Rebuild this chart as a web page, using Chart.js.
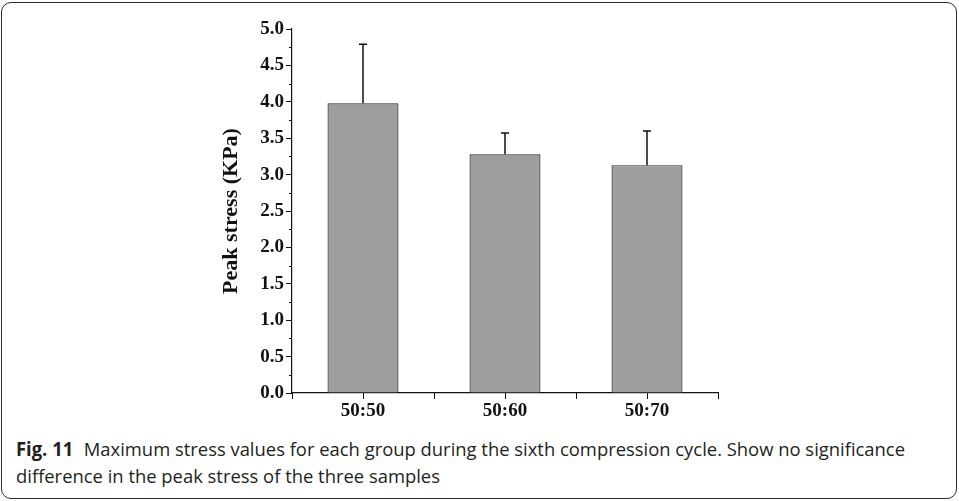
<!DOCTYPE html>
<html>
<head>
<meta charset="utf-8">
<script src="https://cdn.jsdelivr.net/npm/chart.js@4.4.1/dist/chart.umd.min.js"></script>
<style>
  html, body { margin: 0; padding: 0; background: #fff; }
  body { width: 959px; height: 501px; position: relative; overflow: hidden; }
  #frame {
    position: absolute; left: 1px; top: 2px; width: 954px; height: 495px;
    border: 1.5px solid #2a2a2a; border-radius: 10px;
  }
  #wrap { position: absolute; left: 0; top: 0; width: 959px; height: 430px; }
  #caption {
    position: absolute; left: 16px; top: 436px;
    font-family: "Open Sans", sans-serif; font-size: 19px; line-height: 27px;
    color: #231f20; transform-origin: 0 0; white-space: nowrap;
  }
  #caption b { font-weight: 700; margin-right: 6px; }
</style>
</head>
<body>
<div id="frame"></div>
<div id="wrap"><canvas id="chart" width="959" height="430"></canvas></div>
<div id="caption"><span id="line1"><b>Fig. 11</b> Maximum stress values for each group during the sixth compression cycle. Show no significance</span><br>difference in the peak stress of the three samples</div>
<script>
const groups = ["50:50", "50:60", "50:70"];
const peakStress = [3.98, 3.28, 3.13];
const stressErr = [0.81, 0.29, 0.47];
const yTicks = [0, 0.5, 1, 1.5, 2, 2.5, 3, 3.5, 4, 4.5, 5];

const serif = "'Liberation Serif', 'Times New Roman', serif";

// error bars + minor ticks, drawn from the chart's own scales
const extrasPlugin = {
  id: "extras",
  afterDatasetsDraw(chart) {
    const ctx = chart.ctx;
    const x = chart.scales.x, y = chart.scales.y;
    ctx.save();
    ctx.strokeStyle = "#111";
    ctx.lineWidth = 1.5;
    peakStress.forEach((v, i) => {
      const px = x.getPixelForValue(i);
      const top = y.getPixelForValue(v + stressErr[i]);
      ctx.beginPath();
      ctx.moveTo(px, y.getPixelForValue(v));
      ctx.lineTo(px, top);
      ctx.moveTo(px - 4, top);
      ctx.lineTo(px + 4, top);
      ctx.stroke();
    });
    ctx.lineWidth = 1;
    // minor y ticks
    for (let k = 0; k < yTicks.length - 1; k++) {
      const py = Math.round(y.getPixelForValue((yTicks[k] + yTicks[k + 1]) / 2)) + 0.5;
      ctx.beginPath();
      ctx.moveTo(y.right - 3, py);
      ctx.lineTo(y.right, py);
      ctx.stroke();
    }
    // x ticks at category boundaries
    for (let i = 0; i <= groups.length; i++) {
      let px;
      if (i === 0) px = x.left;
      else if (i === groups.length) px = x.right;
      else px = (x.getPixelForValue(i - 1) + x.getPixelForValue(i)) / 2;
      px = Math.round(px) + 0.5;
      ctx.beginPath();
      ctx.moveTo(px, x.top);
      ctx.lineTo(px, x.top + 6);
      ctx.stroke();
    }
    ctx.restore();
  }
};

new Chart(document.getElementById("chart"), {
  type: "bar",
  data: {
    labels: groups,
    datasets: [{
      data: peakStress,
      backgroundColor: "#9d9e9d",
      borderColor: "#2b2b2b",
      borderWidth: 1.2,
      barPercentage: 0.5,
      categoryPercentage: 1
    }]
  },
  options: {
    responsive: false,
    animation: false,
    events: [],
    layout: { padding: { left: 218, right: 241, top: 29, bottom: 0 } },
    plugins: { legend: { display: false }, tooltip: { enabled: false } },
    scales: {
      x: {
        afterFit: (s) => { s.height = 37; },
        border: { display: true, color: "#111", width: 1.2 },
        grid: { offset: false, drawOnChartArea: false, drawTicks: true, tickLength: 6, color: "#111" },
        ticks: { color: "#111", padding: 1, font: { family: serif, size: 19, weight: "bold" } }
      },
      y: {
        min: 0,
        max: 5,
        afterFit: (s) => { s.width = 74; },
        afterBuildTicks: (s) => { s.ticks = yTicks.map(v => ({ value: v })); },
        border: { display: true, color: "#111", width: 1.2 },
        grid: { drawOnChartArea: false, drawTicks: true, tickLength: 6, color: "#111" },
        ticks: {
          color: "#111",
          padding: 2,
          font: { family: serif, size: 19, weight: "bold" },
          callback: (v) => Number(v).toFixed(1)
        },
        title: {
          display: true,
          text: "Peak stress (KPa)",
          color: "#111",
          padding: 0,
          font: { family: serif, size: 22, weight: "bold" }
        }
      }
    }
  },
  plugins: [extrasPlugin]
});

// squeeze caption to the narrow width of the original typeface
const line1 = document.getElementById("line1");
const scale = 889 / line1.getBoundingClientRect().width;
document.getElementById("caption").style.transform = `scaleX(${scale})`;
</script>
</body>
</html>
